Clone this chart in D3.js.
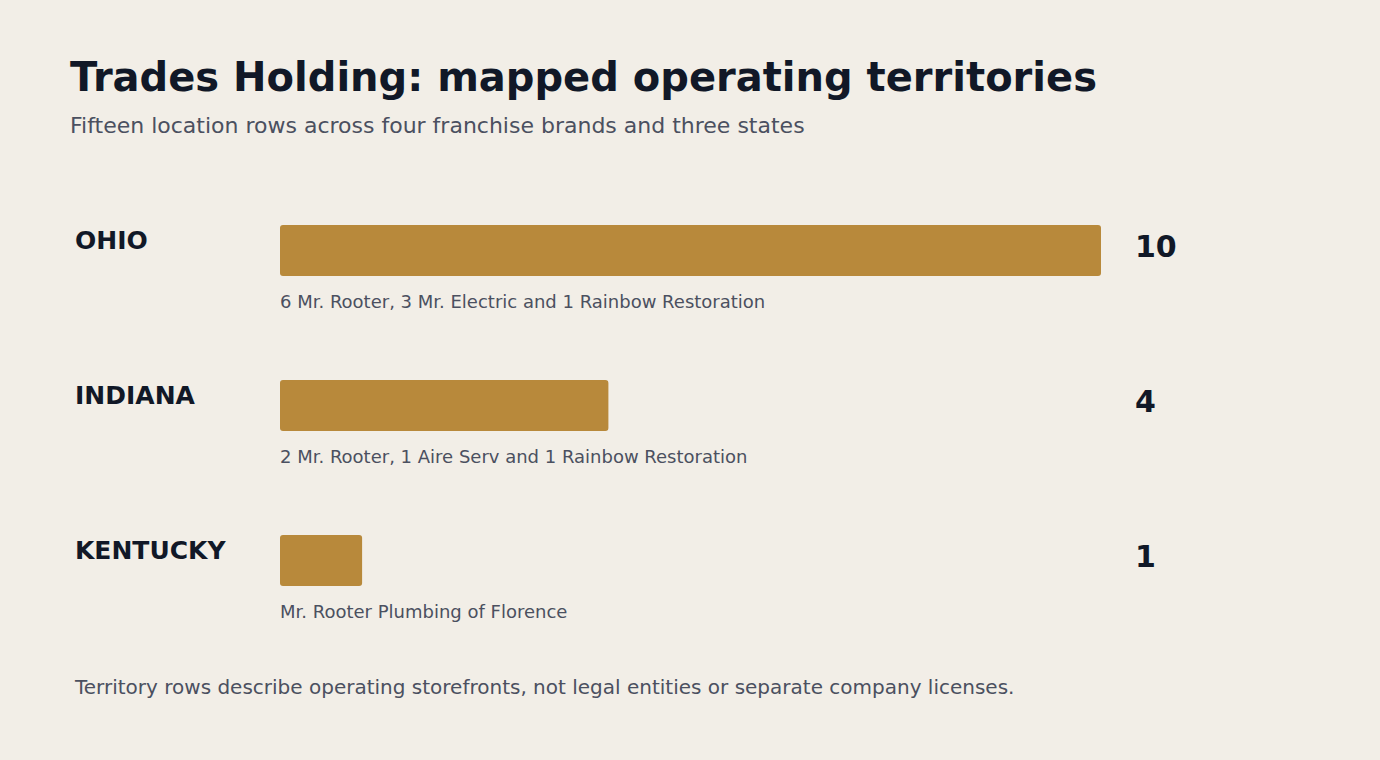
<!DOCTYPE html>
<html><head><meta charset="utf-8">
<script src="https://cdn.jsdelivr.net/npm/d3@7"></script>
<style>body{margin:0;background:#f2eee7;font-family:"DejaVu Sans",sans-serif}</style>
</head><body><svg id="c" width="1380" height="760"></svg>
<script>
const states = ["OHIO","INDIANA","KENTUCKY"];
const counts = [10,4,1];
const details = ["6 Mr. Rooter, 3 Mr. Electric and 1 Rainbow Restoration","2 Mr. Rooter, 1 Aire Serv and 1 Rainbow Restoration","Mr. Rooter Plumbing of Florence"];
const svg = d3.select("#c");
svg.append("rect").attr("width",1380).attr("height",760).attr("fill","#f2eee7");
svg.append("text").attr("x",70).attr("y",91).attr("font-size",40).attr("font-weight","bold").attr("fill","#111827").text("Trades Holding: mapped operating territories");
svg.append("text").attr("x",70).attr("y",133).attr("font-size",22).attr("fill","#4b5060").text("Fifteen location rows across four franchise brands and three states");
const x = d3.scaleLinear().domain([0,10]).range([280,1101]);
const y = d3.scaleBand().domain(states).range([225,690]);
const g = svg.selectAll("g.row").data(states).join("g").attr("transform",d=>`translate(0,${y(d)})`);
g.append("text").attr("x",75).attr("y",24).attr("font-size",25).attr("font-weight","bold").attr("fill","#111827").text(d=>d);
g.append("rect").attr("x",x(0)).attr("y",0).attr("height",51).attr("rx",3).attr("fill","#b8893b").attr("width",(d,i)=>x(counts[i])-x(0));
g.append("text").attr("x",1135).attr("y",32).attr("font-size",30).attr("font-weight","bold").attr("fill","#111827").text((d,i)=>counts[i]);
g.append("text").attr("x",280).attr("y",83).attr("font-size",18).attr("fill","#4b5060").text((d,i)=>details[i]);
svg.append("text").attr("x",75).attr("y",694).attr("font-size",20).attr("fill","#4b5060").text("Territory rows describe operating storefronts, not legal entities or separate company licenses.");
</script></body></html>
